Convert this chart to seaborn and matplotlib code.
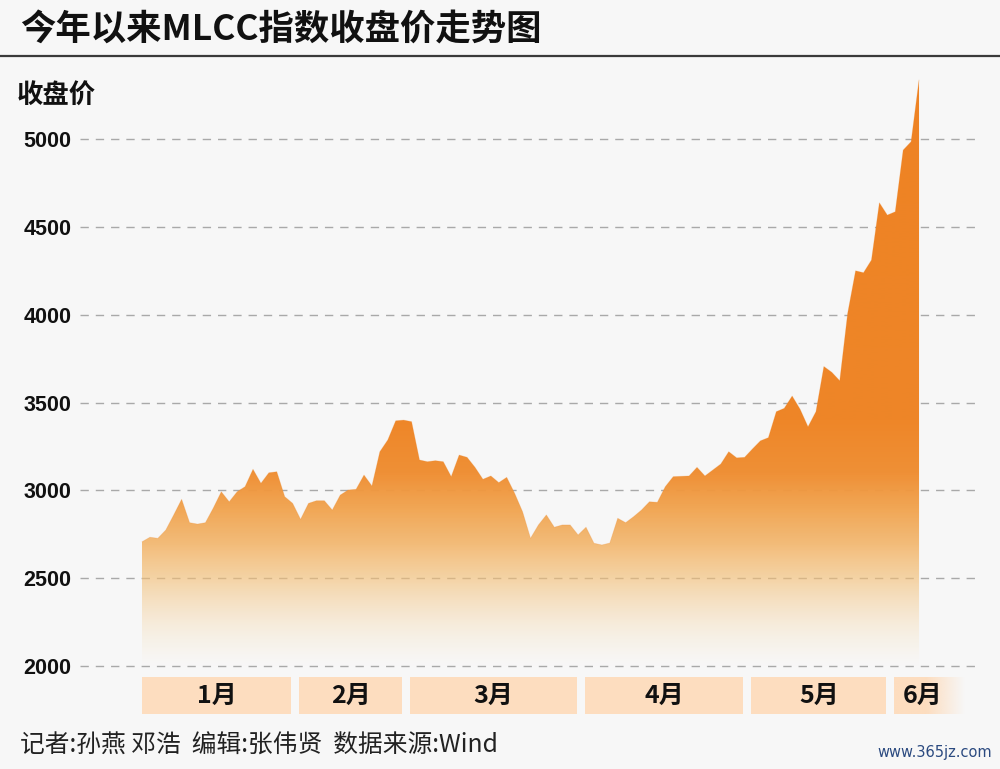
import numpy as np
import pandas as pd
import matplotlib
matplotlib.use("Agg")
import matplotlib.pyplot as plt
import seaborn as sns
from matplotlib.patches import Rectangle, Polygon
from matplotlib.colors import to_rgb
from matplotlib.lines import Line2D
from matplotlib import font_manager as fm

# ---------------- data ----------------
close_values = [
    2707, 2733, 2727, 2774, 2860, 2949, 2816, 2808, 2816, 2900,
    2992, 2935, 2992, 3021, 3120, 3040, 3100, 3106, 2964, 2926,
    2835, 2926, 2941, 2941, 2888, 2973, 3002, 3006, 3087, 3025,
    3220, 3287, 3396, 3400,
    3391, 3173, 3163, 3169, 3163, 3078, 3201, 3188, 3131, 3063,
    3082, 3044, 3074, 2983, 2878, 2727, 2803, 2860, 2790, 2803,
    2803, 2746,
    2790, 2699, 2689, 2700, 2841, 2816, 2850, 2888, 2935, 2932,
    3021, 3078, 3080, 3082, 3131, 3082, 3116, 3150, 3220, 3185,
    3188,
    3236, 3282, 3300, 3448, 3467, 3537, 3462, 3362, 3448, 3705,
    3672, 3624, 4008, 4250, 4239, 4311, 4637, 4567,
    4586, 4937, 4985, 5336,
]
month_labels = ["1月", "2月", "3月", "4月", "5月", "6月"]
month_days = [20, 14, 22, 21, 18, 4]
y_ticks = [2000, 2500, 3000, 3500, 4000, 4500, 5000]
title_text = "今年以来MLCC指数收盘价走势图"
ylabel_text = "收盘价"
footer_text = "记者:孙燕 邓浩  编辑:张伟贤  数据来源:Wind"
watermark_text = "www.365jz.com"

df = pd.DataFrame({"day": np.arange(len(close_values)), "close": close_values})

# ---------------- style ----------------
BG = "#F7F7F7"
sns.set_theme(style="white")
CJK = "Noto Sans CJK SC"
plt.rcParams["font.family"] = [CJK, "DejaVu Sans"]

def has_font(name):
    try:
        fm.findfont(fm.FontProperties(family=name), fallback_to_default=False)
        return True
    except Exception:
        return False

if has_font("Liberation Sans Narrow"):
    num_family, num_size = ["Liberation Sans Narrow", CJK], 17.5
else:
    num_family, num_size = ["Liberation Sans", CJK], 15.5

fig = plt.figure(figsize=(10, 7.69), dpi=100, facecolor=BG)
ax = fig.add_axes([0.08, 0.06541, 0.90, 0.92200 - 0.06541])
ax.set_facecolor(BG)

xmin, xmax = -7.82, 105.69
ymin, ymax = 1700, 5450
ax.set_xlim(xmin, xmax)
ax.set_ylim(ymin, ymax)

# grid lines (below area)
for t in y_ticks:
    ax.axhline(t, color="#A9A9A9", lw=1.0, dashes=(6, 5), zorder=1)

# line via seaborn (source of the area geometry)
sns.lineplot(data=df, x="day", y="close", ax=ax, color="#EE8425",
             lw=0.6, alpha=0.25, zorder=4)
xy = ax.lines[-1].get_xydata()
poly_pts = np.vstack([[xy[0, 0], 2000], xy, [xy[-1, 0], 2000]])
poly = Polygon(poly_pts, closed=True, facecolor="none", edgecolor="none")
ax.add_patch(poly)

# vertical gradient for the area
stops = [
    (2000, "#F8EDD8", 0.0),
    (2100, "#F7E4C0", 0.18),
    (2300, "#F5D09A", 0.42),
    (2500, "#F3BD72", 0.62),
    (2700, "#F2AE5C", 0.82),
    (2900, "#F1A048", 0.93),
    (3100, "#EF9036", 1.0),
    (3400, "#EE8628", 1.0),
    (5450, "#EE8223", 1.0),
]
yy = np.linspace(ymin, ymax, 800)
sv = np.array([s[0] for s in stops], dtype=float)
cols = np.array([to_rgb(s[1]) for s in stops])
alps = np.array([s[2] for s in stops])
img = np.zeros((len(yy), 1, 4))
for c in range(3):
    img[:, 0, c] = np.interp(yy, sv, cols[:, c])
img[:, 0, 3] = np.interp(yy, sv, alps)
im = ax.imshow(img, extent=[xmin, xmax, ymin, ymax], origin="lower",
               aspect="auto", interpolation="bilinear", zorder=3)
im.set_clip_path(poly)

# month bands
band_color = "#FDDDBF"
start = 0
for i, (lab, nd) in enumerate(zip(month_labels, month_days)):
    left = start - 0.15 if i > 0 else 0.0
    if i < len(month_labels) - 1:
        right = start + nd - 1.15
        ax.add_patch(Rectangle((left, 1727), right - left, 210,
                               facecolor=band_color, edgecolor="none", zorder=2))
        cx = (left + right) / 2
    else:
        right = start + 8.8
        fade = np.ones((1, 200, 4))
        fade[..., :3] = to_rgb(band_color)
        xs = np.linspace(0, 1, 200)
        fade[0, :, 3] = np.clip((1 - xs) / 0.55, 0, 1)
        ax.imshow(fade, extent=[left, right, 1727, 1937], origin="lower",
                  aspect="auto", interpolation="bilinear", zorder=2)
        cx = left + 3.6
    ax.text(cx, 1832, lab, ha="center", va="center", fontsize=18,
            fontweight="bold", color="#111111", family=[CJK, "DejaVu Sans"],
            zorder=5)
    start += nd
ax.set_xlim(xmin, xmax)
ax.set_ylim(ymin, ymax)

# axes cosmetics
ax.set_yticks(y_ticks)
ax.set_yticklabels([str(t) for t in y_ticks])
for lbl in ax.get_yticklabels():
    lbl.set_family(num_family)
    lbl.set_fontsize(num_size)
    lbl.set_fontweight("bold")
    lbl.set_color("#111111")
ax.tick_params(axis="y", length=0, pad=6)
ax.set_xticks([])
ax.set_xlabel("")
ax.set_ylabel("")
for s in ax.spines.values():
    s.set_visible(False)

# texts
fig.text(0.020, 0.961, title_text, ha="left", va="center", fontsize=25.5,
         fontweight="bold", color="#111111", family=[CJK, "DejaVu Sans"])
fig.add_artist(Line2D([0, 1], [0.9272, 0.9272], color="#3A3A3A", lw=1.6,
                      transform=fig.transFigure))
fig.text(0.017, 0.875, ylabel_text, ha="left", va="center", fontsize=19,
         fontweight="bold", color="#111111", family=[CJK, "DejaVu Sans"])
fig.text(0.020, 0.030, footer_text, ha="left", va="center", fontsize=17.8,
         color="#222222", family=[CJK, "DejaVu Sans"])
fig.text(0.992, 0.022, watermark_text, ha="right", va="center", fontsize=10.5,
         color="#2B4A80", family=["DejaVu Sans"])

fig.savefig("out.png", dpi=100, facecolor=BG)
